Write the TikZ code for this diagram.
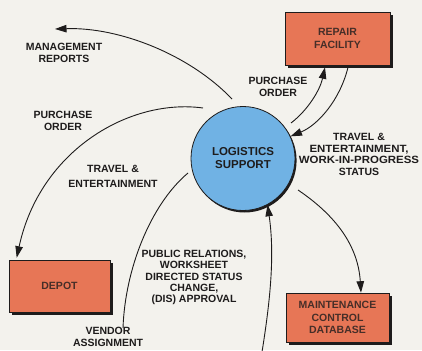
\documentclass[tikz,border=0pt]{standalone}
\usepackage{fontspec}
\usepackage{graphicx}
\setmainfont{Liberation Sans}
\usetikzlibrary{arrows.meta,shadows,calc}
\definecolor{bg}{RGB}{243,242,237}
\definecolor{boxfill}{RGB}{231,118,86}
\definecolor{circfill}{RGB}{112,178,228}
\definecolor{ink}{RGB}{30,28,28}
\newcommand{\wideline}[1]{\scalebox{1.09}[1]{#1}}
\tikzset{
  lbl/.style={font=\bfseries\fontsize{10.5}{12}\selectfont, text=ink, align=center, inner sep=0pt},
  boxnode/.style={draw=ink, line width=0.6pt, fill=boxfill, inner sep=0pt, align=center,
    font=\bfseries\fontsize{10.5}{12.5}\selectfont, text=ink!80!boxfill,
    drop shadow={shadow xshift=3pt, shadow yshift=-3pt, fill=ink, opacity=1}},
  circnode/.style={circle, draw=ink, line width=0.8pt, fill=circfill, minimum size=104pt, inner sep=0pt, align=center,
    font=\bfseries\fontsize{11.5}{13}\selectfont, text=ink,
    drop shadow={shadow xshift=1.6pt, shadow yshift=-2pt, fill=ink, opacity=1}},
  flow/.style={draw=ink, line width=0.9pt},
  arr/.style={flow, -{Triangle[length=11.5pt,width=7.5pt]}}
}
\begin{document}
\begin{tikzpicture}[x=1pt,y=-1pt]
\fill[bg] (0,0) rectangle (422,350);
\useasboundingbox (0,0) rectangle (422,350);
% nodes
\node[circnode] (LS) at (243,158.5) {LOGISTICS\\SUPPORT};
\node[boxnode, minimum width=105pt, minimum height=53pt] (repair) at (337.5,38.5) {REPAIR\\FACILITY};
\node[boxnode, minimum width=101pt, minimum height=52pt] (depot) at (59.5,286) {DEPOT};
\node[boxnode, minimum width=103pt, minimum height=49pt] (maint) at (337.5,317.5) {MAINTENANCE\\CONTROL\\DATABASE};
% free ends
\coordinate (mgS) at (232,99);
\coordinate (mgE) at (55,29);
\coordinate (poS) at (203,108);
\coordinate (vaS) at (188,173);
\coordinate (vaE) at (123,328);
\coordinate (upS) at (262,352);
\coordinate (mtS) at (298,190);
\coordinate (prS) at (291,123);
% connectors
\draw[arr] (mgS) .. controls (190,55) and (120,27) .. (mgE);
\draw[arr] (poS) .. controls (130,98) and (40,150) .. ($(depot.north west)+(8,-2)$);
\draw[flow] (vaS) .. controls (150,205) and (125,270) .. (vaE);
\draw[arr] (upS) .. controls (272,290) and (274,250) .. (LS.-62);
\draw[arr] (mtS) .. controls (335,215) and (358,245) .. ($(maint.north)+(23.5,0)$);
\draw[arr] (prS) .. controls (308,110) and (320,90) .. ($(repair.south)+(-12.5,2)$);
\draw[arr] ($(repair.south)+(10.5,2)$) .. controls (340,100) and (318,125) .. (LS.25);
% labels
\node[lbl] (lMG) at (64,53) {MANAGEMENT\\REPORTS};
\node[lbl] (lPO) at (63,121) {PURCHASE\\ORDER};
\node[lbl, font=\bfseries\fontsize{10.5}{15}\selectfont] (lTE) at (113,176.5) {TRAVEL \&\\ENTERTAINMENT};
\node[lbl] (lPR) at (278,86.5) {PURCHASE\\ORDER};
\node[lbl, font=\bfseries\fontsize{10.5}{11.7}\selectfont] (lTW) at (359,154.5) {TRAVEL \&\\\wideline{ENTERTAINMENT,}\\\wideline{WORK-IN-PROGRESS}\\STATUS};
\node[lbl, font=\bfseries\fontsize{10.5}{11.3}\selectfont] (lPU) at (194,277.5) {PUBLIC RELATIONS,\\WORKSHEET\\DIRECTED STATUS\\CHANGE,\\(DIS) APPROVAL};
\node[lbl] (lVA) at (108,336.5) {VENDOR\\ASSIGNMENT};
\end{tikzpicture}
\end{document}
